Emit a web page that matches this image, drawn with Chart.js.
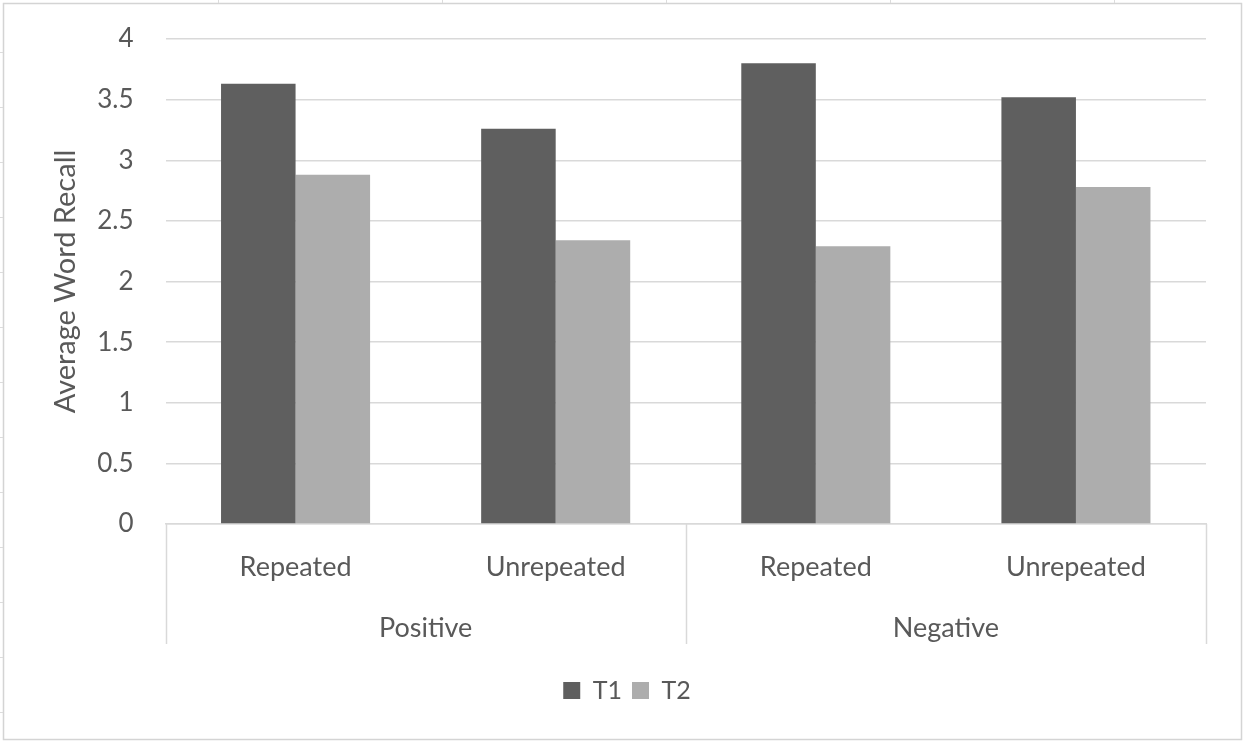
<!DOCTYPE html>
<html>
<head>
<meta charset="utf-8">
<script src="https://cdn.jsdelivr.net/npm/chart.js@4.4.1/dist/chart.umd.min.js"></script>
<style>
  html, body { margin: 0; padding: 0; background: #ffffff; }
  #wrap { width: 1247px; height: 741px; position: relative; }
</style>
</head>
<body>
<div id="wrap"><canvas id="c" width="1247" height="741"></canvas></div>
<script>
// Recall scores per condition
const groups = ['Positive', 'Negative'];
const conditions = ['Repeated', 'Unrepeated', 'Repeated', 'Unrepeated'];
const t1Values = [3.63, 3.26, 3.80, 3.52];
const t2Values = [2.88, 2.34, 2.29, 2.78];
const yTicks = [0, 0.5, 1, 1.5, 2, 2.5, 3, 3.5, 4];

const TEXT = '#595959';
const GRID = '#d9d9d9';
const FONT = 'Lato, "Open Sans", sans-serif';

// Frame around the chart plus the faint cell lines that sit outside it
const framePlugin = {
  id: 'frame',
  beforeDraw(chart) {
    const ctx = chart.ctx;
    ctx.save();
    ctx.fillStyle = '#ffffff';
    ctx.fillRect(0, 0, chart.width, chart.height);
    ctx.strokeStyle = '#d4d4d4';
    ctx.lineWidth = 1.5;
    ctx.strokeRect(3.5, 3.5, chart.width - 9, chart.height - 5);
    ctx.strokeStyle = '#dcdcdc';
    ctx.lineWidth = 1;
    [218, 442, 666, 890, 1114].forEach(x => {
      ctx.beginPath(); ctx.moveTo(x + 0.5, 0); ctx.lineTo(x + 0.5, 3); ctx.stroke();
    });
    for (let y = 52; y < chart.height; y += 55) {
      ctx.beginPath(); ctx.moveTo(0, y + 0.5); ctx.lineTo(3, y + 0.5); ctx.stroke();
    }
    ctx.restore();
  }
};

// Second level of the category axis: group dividers and group names
const groupAxisPlugin = {
  id: 'groupAxis',
  afterDraw(chart) {
    const x = chart.scales.x;
    const ctx = chart.ctx;
    const per = conditions.length / groups.length;
    const top = x.top;
    const bottom = x.top + 120;
    const bounds = [x.left];
    for (let g = 1; g < groups.length; g++) {
      bounds.push((x.getPixelForValue(g * per - 1) + x.getPixelForValue(g * per)) / 2);
    }
    bounds.push(x.right);
    ctx.save();
    ctx.strokeStyle = GRID;
    ctx.lineWidth = 1.5;
    bounds.forEach(b => {
      const px = Math.round(b) + 0.5;
      ctx.beginPath(); ctx.moveTo(px, top); ctx.lineTo(px, bottom); ctx.stroke();
    });
    ctx.fillStyle = TEXT;
    ctx.font = '27px ' + FONT;
    ctx.textAlign = 'center';
    ctx.textBaseline = 'middle';
    groups.forEach((name, g) => {
      ctx.fillText(name, (bounds[g] + bounds[g + 1]) / 2, top + 104);
    });
    ctx.restore();
  }
};

new Chart(document.getElementById('c'), {
  type: 'bar',
  data: {
    labels: conditions,
    datasets: [
      { label: 'T1', data: t1Values, backgroundColor: '#5f5f5f', borderWidth: 0 },
      { label: 'T2', data: t2Values, backgroundColor: '#adadad', borderWidth: 0 }
    ]
  },
  options: {
    responsive: false,
    animation: false,
    devicePixelRatio: 1,
    layout: { padding: { left: 48, right: 41, top: 39, bottom: 28 } },
    datasets: { bar: { categoryPercentage: 0.573, barPercentage: 1.0 } },
    plugins: {
      legend: {
        position: 'bottom',
        labels: {
          color: TEXT,
          font: { family: FONT, size: 25 },
          boxWidth: 17,
          boxHeight: 17,
          padding: 10
        }
      },
      tooltip: { enabled: false }
    },
    scales: {
      x: {
        grid: { display: false, drawTicks: false },
        border: { display: true, color: GRID, width: 1.5 },
        ticks: { color: TEXT, font: { family: FONT, size: 27 }, padding: 27, maxRotation: 0 },
        afterFit(s) { s.height = 144; }
      },
      y: {
        min: 0,
        max: 4,
        afterBuildTicks(s) { s.ticks = yTicks.map(v => ({ value: v })); },
        grid: { color: GRID, lineWidth: 1.5, drawTicks: false },
        border: { display: false },
        ticks: {
          color: TEXT,
          font: { family: FONT, size: 26 },
          padding: 32,
          callback: v => String(v)
        },
        title: {
          display: true,
          text: 'Average Word Recall',
          color: TEXT,
          font: { family: FONT, size: 29 },
          padding: { top: 0, bottom: 0 }
        },
        afterFit(s) {
          s.width = 117.5;
          s.paddingTop = 0;
          s.paddingBottom = 0;
        }
      }
    }
  },
  plugins: [framePlugin, groupAxisPlugin]
});
</script>
</body>
</html>
